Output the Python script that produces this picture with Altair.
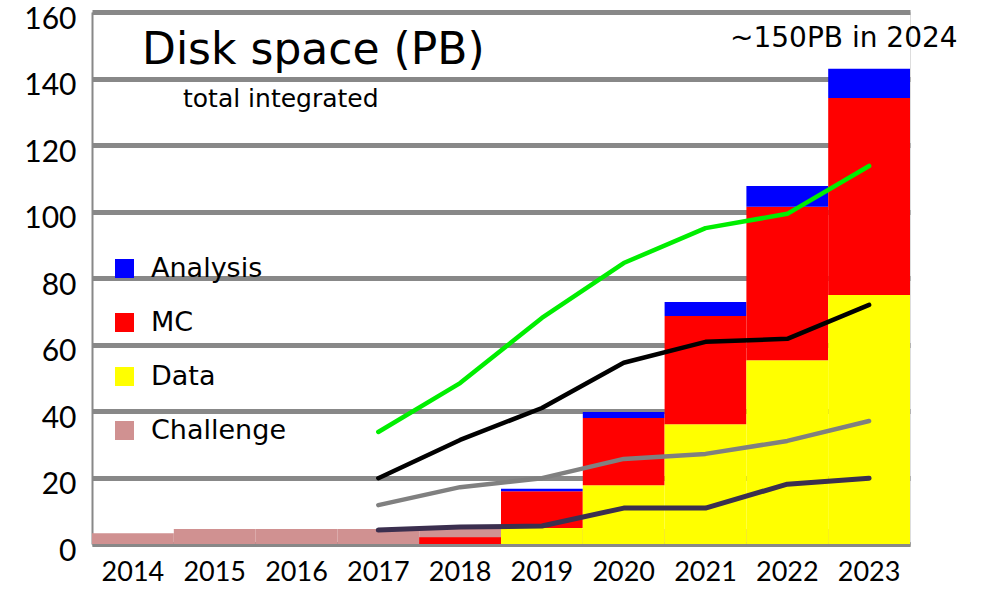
import altair as alt
import pandas as pd

years = ["2014", "2015", "2016", "2017", "2018", "2019", "2020", "2021", "2022", "2023"]
data_pb = [0, 0, 0, 0, 0, 4.8, 17.7, 36.0, 55.3, 74.9]
mc_pb = [0, 0, 0, 0, 2.0, 11.1, 20.2, 32.6, 46.1, 59.2]
analysis_pb = [0, 0, 0, 0, 0, 0.7, 1.8, 4.2, 6.3, 8.8]
challenge_pb = [3.2, 4.5, 4.5, 4.5, 4.5, 4.5, 4.5, 4.5, 4.5, 4.5]

line_years = ["2017", "2018", "2019", "2020", "2021", "2022", "2023"]
green_line = [33.7, 48.4, 68.0, 84.5, 95.0, 99.3, 113.7]
black_line = [19.8, 31.3, 40.9, 54.5, 60.8, 61.7, 71.9]
gray_line = [11.7, 17.1, 19.8, 25.6, 27.1, 31.0, 37.0]
purple_line = [4.2, 5.1, 5.4, 10.8, 10.8, 18.0, 19.8]

categories = ["Analysis", "MC", "Data", "Challenge"]
cat_colors = ["#0000ff", "#ff0000", "#ffff00", "#d09191"]

title_text = "Disk space (PB)"
subtitle_text = "total integrated"
note_text = "~150PB in 2024"

FONT = "Lato"
HAND = "DejaVu Sans"

rows = []
for i, y in enumerate(years):
    rows.append({"year": y, "type": "Data", "value": data_pb[i], "ord": 0})
    rows.append({"year": y, "type": "MC", "value": mc_pb[i], "ord": 1})
    rows.append({"year": y, "type": "Analysis", "value": analysis_pb[i], "ord": 2})
stack_df = pd.DataFrame(rows)
chal_df = pd.DataFrame({"year": years, "type": ["Challenge"] * len(years), "value": challenge_pb})

xscale = alt.Scale(domain=years, paddingInner=0, paddingOuter=0)
yscale = alt.Scale(domain=[0, 160], nice=False)
cscale = alt.Scale(domain=categories, range=cat_colors)

xenc = alt.X("year:N", scale=xscale, sort=years,
             axis=alt.Axis(title=None, ticks=False, labelAngle=0, labelFontSize=27,
                           labelFont=FONT, labelColor="black", labelPadding=15,
                           domainColor="#888888", domainWidth=4))
yenc_axis = alt.Axis(title=None, values=list(range(0, 161, 20)), ticks=False,
                     labelFontSize=30, labelFont=FONT, labelColor="black", labelPadding=16,
                     labelOffset=7,
                     grid=True, gridColor="#888888", gridWidth=5,
                     domainColor="#888888", domainWidth=2)

legend = alt.Legend(title=None, orient="none", legendX=19, legendY=243,
                    symbolType="square", symbolSize=361, symbolStrokeWidth=0,
                    labelFontSize=27, labelFont=HAND, labelColor="black",
                    labelOffset=13, rowPadding=26, padding=0)

chal = alt.Chart(chal_df).mark_bar(stroke=None).encode(
    x=xenc,
    y=alt.Y("value:Q", scale=yscale, axis=yenc_axis, stack=None),
    color=alt.Color("type:N", scale=cscale, legend=legend),
)

bars = alt.Chart(stack_df).mark_bar(stroke=None).encode(
    x=alt.X("year:N", scale=xscale, sort=years),
    y=alt.Y("value:Q", scale=yscale, stack="zero"),
    color=alt.Color("type:N", scale=cscale, legend=legend),
    order=alt.Order("ord:Q"),
)

def line_layer(vals, color, width):
    df = pd.DataFrame({"year": line_years, "value": vals})
    return alt.Chart(df).mark_line(color=color, strokeWidth=width, strokeCap="round",
                                   strokeJoin="round").encode(
        x=alt.X("year:N", scale=xscale, sort=years),
        y=alt.Y("value:Q", scale=yscale),
    )

lines = [
    line_layer(green_line, "#00ee00", 4.5),
    line_layer(black_line, "#000000", 4.5),
    line_layer(gray_line, "#808080", 4.5),
    line_layer(purple_line, "#3b2f4f", 5),
]

title = alt.Chart(pd.DataFrame({"t": [title_text]})).mark_text(
    align="left", baseline="alphabetic", fontSize=44, font=HAND, color="black").encode(
    text="t:N", x=alt.value(50), y=alt.value(52))
sub = alt.Chart(pd.DataFrame({"t": [subtitle_text]})).mark_text(
    align="left", baseline="alphabetic", fontSize=25, font=HAND, color="black").encode(
    text="t:N", x=alt.value(91), y=alt.value(95))
note = alt.Chart(pd.DataFrame({"t": [note_text]})).mark_text(
    align="left", baseline="alphabetic", fontSize=28, font=HAND, color="black").encode(
    text="t:N", x=alt.value(638), y=alt.value(35))

chart = alt.layer(chal, bars, *lines, title, sub, note).properties(
    width=818, height=532,
    autosize=alt.AutoSizeParams(type="none"),
    padding={"left": 92, "top": 12, "right": 76, "bottom": 48},
).configure_view(stroke="#888888", strokeWidth=2).configure(background="white")

chart.save("out.html", embed_options={"renderer": "svg", "actions": False})
